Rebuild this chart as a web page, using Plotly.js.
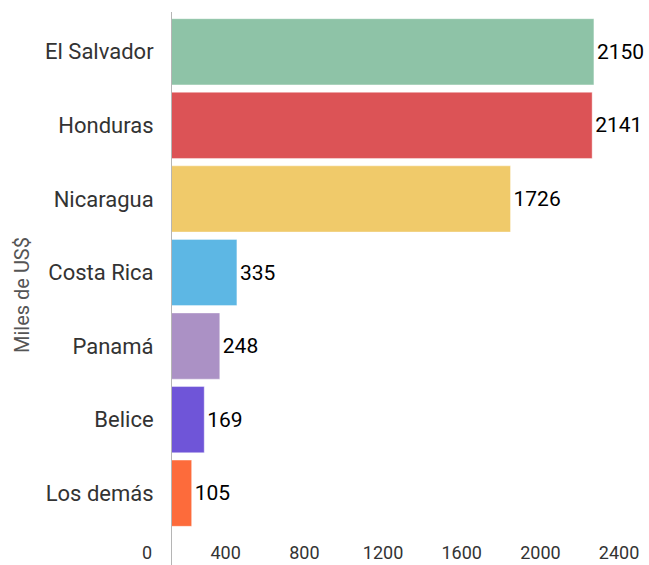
<!DOCTYPE html>
<html>
<head>
<meta charset="utf-8">
<script src="https://cdn.plot.ly/plotly-3.0.1.min.js"></script>
<style>html,body{margin:0;padding:0;background:#fff}#chart{width:649px;height:565px}</style>
</head>
<body>
<div id="chart"></div>
<script>
const categories = ["El Salvador", "Honduras", "Nicaragua", "Costa Rica", "Panamá", "Belice", "Los demás"];
const values = [2150, 2141, 1726, 335, 248, 169, 105];
const barColors = ["#8ec3a7", "#dc5356", "#f0ca6a", "#5db7e4", "#ab91c5", "#6f55d8", "#fd6b3b"];
const xTickValues = [0, 400, 800, 1200, 1600, 2000, 2400];
const yTitle = "Miles de US$";

const trace = {
  type: "bar",
  orientation: "h",
  y: categories,
  x: values,
  text: values.map(String),
  textposition: "outside",
  cliponaxis: false,
  constraintext: "none",
  textfont: {family: "Roboto, sans-serif", size: 21, color: "#000"},
  marker: {color: barColors, line: {width: 1, color: "rgba(255,255,255,0.4)"}},
  hoverinfo: "x+y"
};

const layout = {
  width: 649, height: 565,
  margin: {l: 171, r: 0, t: 15, b: 35},
  paper_bgcolor: "#fff", plot_bgcolor: "#fff",
  bargap: 0.1,
  showlegend: false,
  font: {family: "Roboto, sans-serif", color: "#333"},
  xaxis: {
    range: [0, 2430],
    tickvals: xTickValues,
    ticktext: xTickValues.map(String),
    showgrid: false, zeroline: false, showline: false,
    ticks: "outside", ticklen: 6, tickcolor: "rgba(0,0,0,0)",
    ticklabelshift: -24,
    tickfont: {size: 18, color: "#333"},
    fixedrange: true
  },
  yaxis: {
    autorange: "reversed",
    showgrid: false, zeroline: false, showline: false,
    ticks: "outside", ticklen: 12, tickcolor: "rgba(0,0,0,0)",
    tickfont: {size: 22, color: "#333"},
    automargin: false,
    fixedrange: true
  },
  annotations: [{
    text: yTitle, textangle: -90, showarrow: false,
    xref: "paper", yref: "paper", x: -0.312, y: 0.456,
    xanchor: "center", yanchor: "middle",
    font: {family: "Roboto, sans-serif", size: 20, color: "#555"}
  }],
  shapes: [{
    type: "line", xref: "x", yref: "paper",
    x0: 0, x1: 0, y0: -0.07, y1: 1.006,
    line: {color: "#b5b5b5", width: 2}, layer: "above"
  }]
};

Plotly.newPlot("chart", [trace], layout, {displayModeBar: false, staticPlot: true});
</script>
</body>
</html>
